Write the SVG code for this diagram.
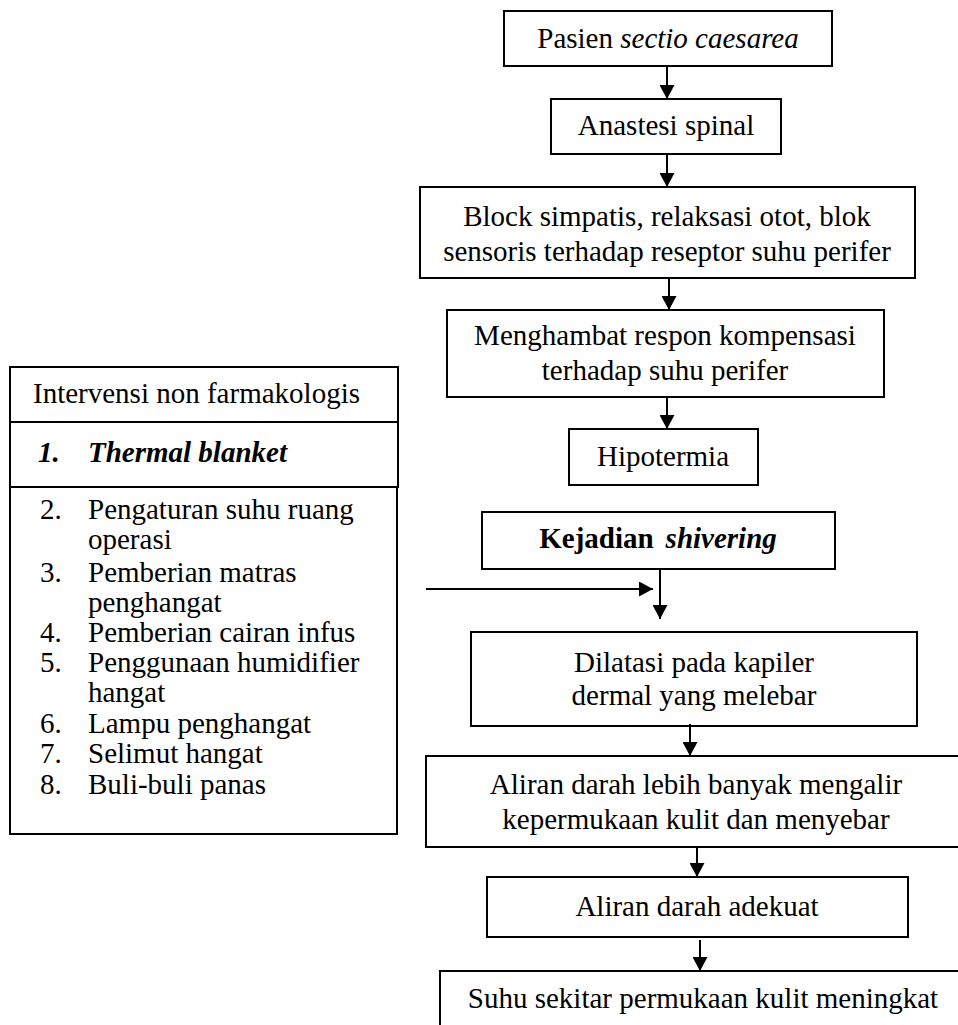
<svg xmlns="http://www.w3.org/2000/svg" width="958" height="1025" viewBox="0 0 958 1025">
<defs>
<style>
.box{fill:#fff;stroke:#000;stroke-width:2}
.t{font-family:"Liberation Serif","Times New Roman",serif;font-size:29px;fill:#000}
.c{text-anchor:middle}
.conn line{stroke:#000;stroke-width:2;marker-end:url(#ah)}
</style>
<marker id="ah" viewBox="0 0 14 15" refX="14" refY="7.5" markerWidth="14" markerHeight="15" markerUnits="userSpaceOnUse" orient="auto">
<path d="M0,0 L14,7.5 L0,15 z" fill="#000"/>
</marker>
</defs>
<rect width="958" height="1025" fill="#fff"/>
<g id="n1"><rect class="box" x="504" y="11" width="328" height="55"/><text class="t c" x="668" y="48">Pasien <tspan font-style="italic">sectio caesarea</tspan></text></g>
<g id="n2"><rect class="box" x="551" y="99" width="230" height="55"/><text class="t c" x="666" y="135">Anastesi spinal</text></g>
<g id="n3"><rect class="box" x="420" y="187" width="495" height="91"/><text class="t c" x="667" y="226">Block simpatis, relaksasi otot, blok</text><text class="t c" x="667" y="261">sensoris terhadap reseptor suhu perifer</text></g>
<g id="n4"><rect class="box" x="447" y="310" width="437" height="87"/><text class="t c" x="665" y="345">Menghambat respon kompensasi</text><text class="t c" x="665" y="380">terhadap suhu perifer</text></g>
<g id="n5"><rect class="box" x="569" y="429" width="189" height="56"/><text class="t c" x="663" y="466">Hipotermia</text></g>
<g id="n6"><rect class="box" x="482" y="512" width="353" height="57"/><text class="t c" x="658" y="548" font-size="24" font-weight="bold">Kejadian<tspan dx="12" font-style="italic">shivering</tspan></text></g>
<g id="n7"><rect class="box" x="471" y="632" width="446" height="94"/><text class="t c" x="694" y="672">Dilatasi pada kapiler</text><text class="t c" x="694" y="705">dermal yang melebar</text></g>
<g id="n8"><rect class="box" x="426" y="756" width="540" height="91"/><text class="t c" x="696" y="794">Aliran darah lebih banyak mengalir</text><text class="t c" x="696" y="829">kepermukaan kulit dan menyebar</text></g>
<g id="n9"><rect class="box" x="487" y="877" width="421" height="60"/><text class="t c" x="697" y="916">Aliran darah adekuat</text></g>
<g id="n10"><rect class="box" x="440" y="971" width="527" height="70"/><text class="t c" x="703" y="1008">Suhu sekitar permukaan kulit meningkat</text></g>
<g id="n11">
<rect class="box" x="10" y="367" width="388" height="55"/><text class="t" x="33" y="403">Intervensi non farmakologis</text>
<rect class="box" x="10" y="422" width="388" height="65"/><text class="t" x="38" y="462" font-weight="bold" font-style="italic">1.</text><text class="t" x="88" y="462" font-weight="bold" font-style="italic">Thermal blanket</text>
<rect class="box" x="10" y="487" width="387" height="347"/>
<text class="t" x="40" y="519">2.</text><text class="t" x="88" y="519">Pengaturan suhu ruang</text>
<text class="t" x="88" y="549">operasi</text>
<text class="t" x="40" y="582">3.</text><text class="t" x="88" y="582">Pemberian matras</text>
<text class="t" x="88" y="612">penghangat</text>
<text class="t" x="40" y="642">4.</text><text class="t" x="88" y="642">Pemberian cairan infus</text>
<text class="t" x="40" y="672">5.</text><text class="t" x="88" y="672">Penggunaan humidifier</text>
<text class="t" x="88" y="702">hangat</text>
<text class="t" x="40" y="733">6.</text><text class="t" x="88" y="733">Lampu penghangat</text>
<text class="t" x="40" y="763">7.</text><text class="t" x="88" y="763">Selimut hangat</text>
<text class="t" x="40" y="794" font-family="Liberation Sans, Arial, sans-serif" font-size="27">8.</text><text class="t" x="88" y="794">Buli-buli panas</text>
</g>
<g class="conn" id="connectors">
<line x1="667" y1="66" x2="667" y2="99"/>
<line x1="667" y1="154" x2="667" y2="187"/>
<line x1="669" y1="278" x2="669" y2="310"/>
<line x1="667" y1="397" x2="667" y2="429"/>
<line x1="426" y1="589" x2="653" y2="589"/>
<line x1="660" y1="569" x2="660" y2="619"/>
<line x1="690" y1="724" x2="690" y2="756"/>
<line x1="697" y1="847" x2="697" y2="877"/>
<line x1="700" y1="940" x2="700" y2="971"/>
</g>
</svg>
